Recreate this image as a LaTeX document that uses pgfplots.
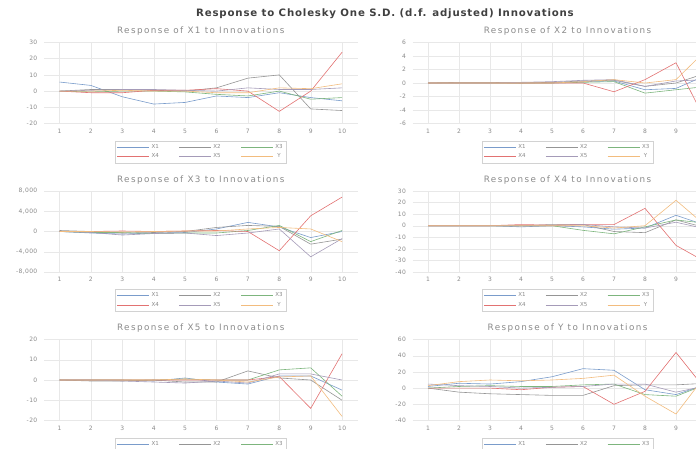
\documentclass[border=0pt]{standalone}
\usepackage{fontspec}
\setmainfont{DejaVu Sans}
\usepackage{pgfplots}
\usepackage{pgfplotstable}
\pgfplotsset{compat=1.18}
\definecolor{cA}{HTML}{7A9CCB}
\definecolor{cB}{HTML}{959595}
\definecolor{cC}{HTML}{7DB57D}
\definecolor{cD}{HTML}{E27272}
\definecolor{cE}{HTML}{A59BB8}
\definecolor{cF}{HTML}{F2BC7E}
\definecolor{txt}{HTML}{8A8A8A}

\pgfplotstableread{
h x1 x2 x3 x4 x5 y
1 5.6 0 0 0 0 0
2 3.5 1 -0.5 -1 0.5 0
3 -3.5 1 0 -1 1 0.5
4 -8 0.5 0 0.5 1 0
5 -7 0 -0.5 0.5 0.5 0
6 -3 2 -2 1.5 0 -1
7 -4 8 -3 0 2 -1
8 -1 10 0 -12.5 1 2
9 -4 -11 -5 0 1 1.5
10 -6 -12 -4 24 2 4.5
}\tA
\pgfplotstableread{
h x1 x2 x3 x4 x5 y
1 0 0 0 0 0 0
2 0 0.1 0 0 0 0
3 0 0.1 0 0 0 0
4 0 0 0 0 0.1 0
5 0 0.1 0 0 0.2 0
6 0.2 0.3 0.1 0 0.4 0.2
7 0.3 0.4 0.2 -1.3 0.5 0.5
8 -1.0 -0.5 -1.5 0.5 -0.5 0
9 -0.8 0 -1.0 3 0.3 0.5
10 1.2 1.5 -0.5 -6 0.5 5
}\tB
\pgfplotstableread{
h x1 x2 x3 x4 x5 y
1 0 200 0 0 0 0
2 -300 0 -200 0 -200 0
3 -500 -300 -200 100 -700 -100
4 -300 -200 -400 0 -400 0
5 -200 0 -300 100 -300 100
6 500 800 -300 200 -800 100
7 1800 1200 200 0 -300 500
8 900 1000 1200 -3800 500 800
9 -1200 -2500 -2000 3100 -5000 500
10 0 -1500 200 6800 -1400 -2000
}\tC
\pgfplotstableread{
h x1 x2 x3 x4 x5 y
1 0 0 0 0 0 0
2 0 0 0 0 0 0
3 0 0 0 0 0 0
4 -1 0 0 1 0 0
5 0 1 0 0.5 0 0
6 -1 1 -4 1 1 0
7 -3 -5 -7 1 -1 -2
8 -2 -6 -1 15 -2 0
9 9 5 5 -17 3 22
10 0 -2 2 -32 -3 -1
}\tD
\pgfplotstableread{
h x1 x2 x3 x4 x5 y
1 0 0 0 0 0 0
2 0 -0.5 0 0 0 0
3 0 -0.5 0 0 -0.5 0
4 -0.5 0 0 0 -1 0
5 1 -1 0.5 0 -1.5 0.5
6 -1 -1 0 0 -0.5 0
7 -2 4.5 0 0 -1.5 -1
8 2 1 5 1.7 3 1.5
9 2 0 6 -14 3 2
10 -5 -10 -8 13 0 -18
}\tE
\pgfplotstableread{
h x1 x2 x3 x4 x5 y
1 2 0 0 0 5 3
2 6 -5 2 0 3 8
3 5 -7 3 0 2 10
4 8 -8 2 -2 0 9
5 14 -9 2 1 1 10
6 24 -9 4 2 2 12
7 22 3 5 -20 5 16
8 -2 4 -8 -4 5 -10
9 -8 4 -10 44 -5 -32
10 5 6 5 -4 3 18
}\tF

\newcommand{\six}[1]{%
\addplot[cA] table[x=h,y=x1]{#1};
\addplot[cB] table[x=h,y=x2]{#1};
\addplot[cC] table[x=h,y=x3]{#1};
\addplot[cD] table[x=h,y=x4]{#1};
\addplot[cE] table[x=h,y=x5]{#1};
\addplot[cF] table[x=h,y=y]{#1};
\legend{X1,X2,X3,X4,X5,Y}}

\pgfplotsset{
 panel/.style={
   scale only axis, height=81pt,
   xmin=0.5, xmax=10.5,
   axis line style={draw=none}, tick style={draw=none},
   xmajorgrids, ymajorgrids, grid style={gray!18, line width=0.4pt},
   ticklabel style={font=\fontsize{6}{7}\selectfont\addfontfeatures{LetterSpace=6}, text=txt},
   /pgf/number format/assume math mode=true,
   /pgf/number format/1000 sep={,},
   yticklabel style={xshift=-3pt},
   xticklabel style={yshift=-2pt},
   title style={font=\fontsize{8.8}{9.5}\selectfont\addfontfeatures{LetterSpace=16}, text=txt, at={(0.5,1)}, anchor=center, yshift=5pt},
   legend columns=3,
   legend style={at={(0.5,0)}, anchor=north, yshift=-17pt, draw=gray!35, line width=0.4pt,
     font=\fontsize{5.5}{6}\selectfont, text=txt, inner sep=1.5pt,
     /tikz/every even column/.append style={column sep=18pt}},
   legend image code/.code={\draw[##1, line width=0.6pt] (0pt,0pt) -- (32pt,0pt);},
   every axis plot/.append style={line width=0.6pt, mark=none},
 },
 lpanel/.style={panel, width=314pt, xtick={1,...,10}},
 rpanel/.style={panel, width=310pt, xtick={1,...,9}},
}

\begin{document}
\begin{tikzpicture}
\useasboundingbox (0pt,0pt) rectangle (696pt,448pt);
\clip (0pt,0pt) rectangle (696pt,448pt);
\node[font=\bfseries\fontsize{10.2}{11}\selectfont\addfontfeatures{LetterSpace=8}, text=black!75] at (385pt,434pt) {Response to Cholesky One S.D. (d.f. adjusted) Innovations};

\begin{axis}[lpanel, at={(43.8pt,324.5pt)}, anchor=south west, ymin=-20, ymax=30, ytick={-20,-10,0,10,20,30},
  title={Response of X1 to Innovations}]
\six{\tA}
\end{axis}

\begin{axis}[rpanel, at={(412.5pt,324.5pt)}, anchor=south west, ymin=-6, ymax=6, ytick={-6,-4,...,6},
  title={Response of X2 to Innovations}]
\six{\tB}
\end{axis}

\begin{axis}[lpanel, at={(43.8pt,176pt)}, anchor=south west, ymin=-8000, ymax=8000, ytick={-8000,-4000,0,4000,8000},
  scaled y ticks=false, title={Response of X3 to Innovations}]
\six{\tC}
\end{axis}

\begin{axis}[rpanel, at={(412.5pt,176pt)}, anchor=south west, ymin=-40, ymax=30, ytick={-40,-30,...,30},
  title={Response of X4 to Innovations}]
\six{\tD}
\end{axis}

\begin{axis}[lpanel, at={(43.8pt,27.5pt)}, anchor=south west, ymin=-20, ymax=20, ytick={-20,-10,0,10,20},
  title={Response of X5 to Innovations}]
\six{\tE}
\end{axis}

\begin{axis}[rpanel, at={(412.5pt,27.5pt)}, anchor=south west, ymin=-40, ymax=60, ytick={-40,-20,...,60},
  title={Response of Y to Innovations}]
\six{\tF}
\end{axis}
\end{tikzpicture}
\end{document}
